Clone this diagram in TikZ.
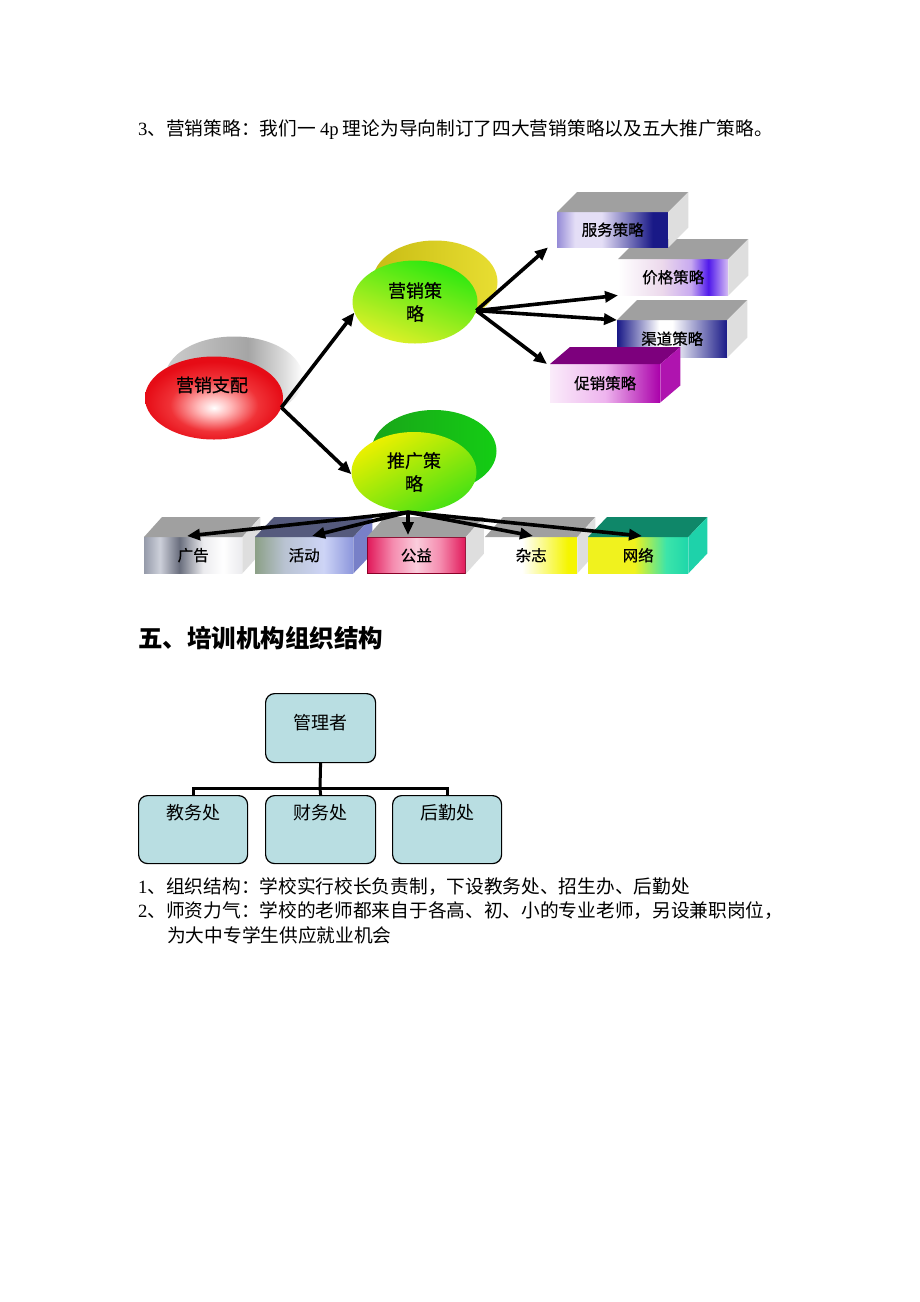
\documentclass[tikz,border=0pt]{standalone}
\usepackage{fontspec}
\setmainfont{Liberation Serif}
\newfontfamily\cjk{Noto Sans CJK SC}
\newfontfamily\cjkh[FakeBold=0.6]{Noto Sans CJK SC}
\usetikzlibrary{shapes.geometric,arrows.meta}

\definecolor{navy}{RGB}{25,25,135}
\definecolor{fwA}{RGB}{150,140,215}
\definecolor{fwB}{RGB}{228,222,246}
\definecolor{jgB}{RGB}{200,170,240}
\definecolor{jgC}{RGB}{80,25,235}
\definecolor{jgD}{RGB}{215,190,245}
\definecolor{cxA}{RGB}{250,236,250}
\definecolor{cxB}{RGB}{238,180,238}
\definecolor{cxC}{RGB}{170,0,170}
\definecolor{cxTop}{RGB}{125,0,125}
\definecolor{cxSide}{RGB}{175,20,175}
\definecolor{ggA}{RGB}{150,155,170}
\definecolor{ggB}{RGB}{205,208,218}
\definecolor{ggC}{RGB}{105,110,125}
\definecolor{ggD}{RGB}{235,235,238}
\definecolor{hdA}{RGB}{140,160,135}
\definecolor{hdB}{RGB}{185,195,210}
\definecolor{hdC}{RGB}{205,212,246}
\definecolor{hdD}{RGB}{140,150,220}
\definecolor{hdTop}{RGB}{85,90,125}
\definecolor{hdSide}{RGB}{120,128,200}
\definecolor{gyA}{RGB}{225,25,90}
\definecolor{gyB}{RGB}{245,140,175}
\definecolor{gyC}{RGB}{250,205,220}
\definecolor{gyBorder}{RGB}{140,0,40}
\definecolor{zzA}{RGB}{245,245,0}
\definecolor{wlA}{RGB}{240,242,30}
\definecolor{wlB}{RGB}{60,228,170}
\definecolor{wlC}{RGB}{30,215,170}
\definecolor{wlTop}{RGB}{15,135,105}
\definecolor{wlSide}{RGB}{30,210,170}
\definecolor{topgray}{RGB}{160,160,160}
\definecolor{sidegray}{RGB}{222,222,222}
\definecolor{redD}{RGB}{230,12,22}
\definecolor{redM}{RGB}{240,50,55}
\definecolor{redL}{RGB}{255,185,185}
\definecolor{grA}{RGB}{205,205,205}
\definecolor{grB}{RGB}{165,165,165}
\definecolor{grC}{RGB}{220,220,220}
\definecolor{ylA}{RGB}{200,188,20}
\definecolor{ylB}{RGB}{232,222,50}
\definecolor{gnA}{RGB}{25,165,25}
\definecolor{gnB}{RGB}{20,205,20}
\definecolor{msTop}{RGB}{40,232,15}
\definecolor{msBot}{RGB}{225,240,40}
\definecolor{tgA}{RGB}{238,240,0}
\definecolor{tgB}{RGB}{70,225,20}
\definecolor{orgfill}{RGB}{185,222,226}

\pgfdeclarehorizontalshading{fuwu}{100bp}{color(0bp)=(fwA); color(25bp)=(fwA); color(33bp)=(fwB); color(45bp)=(fwB); color(68bp)=(navy); color(100bp)=(navy)}
\pgfdeclarehorizontalshading{jiage}{100bp}{color(0bp)=(white); color(25bp)=(white); color(45bp)=(white!85!violet); color(58bp)=(jgB); color(66bp)=(jgC); color(75bp)=(jgD); color(100bp)=(jgD)}
\pgfdeclarehorizontalshading{qudao}{100bp}{color(0bp)=(navy); color(25bp)=(navy); color(44bp)=(white); color(50bp)=(white); color(75bp)=(navy); color(100bp)=(navy)}
\pgfdeclarehorizontalshading{cuxiao}{100bp}{color(0bp)=(cxA); color(25bp)=(cxA); color(50bp)=(cxB); color(75bp)=(cxC); color(100bp)=(cxC)}
\pgfdeclarehorizontalshading{guanggao}{100bp}{color(0bp)=(ggA); color(25bp)=(ggA); color(33bp)=(ggB); color(43bp)=(ggC); color(55bp)=(ggD); color(65bp)=(white); color(75bp)=(ggD); color(100bp)=(ggD)}
\pgfdeclarehorizontalshading{huodong}{100bp}{color(0bp)=(hdA); color(25bp)=(hdA); color(40bp)=(hdB); color(60bp)=(hdC); color(75bp)=(hdD); color(100bp)=(hdD)}
\pgfdeclarehorizontalshading{gongyi}{100bp}{color(0bp)=(gyA); color(25bp)=(gyA); color(38bp)=(gyB); color(50bp)=(gyC); color(62bp)=(gyB); color(75bp)=(gyA); color(100bp)=(gyA)}
\pgfdeclarehorizontalshading{zazhi}{100bp}{color(0bp)=(white); color(25bp)=(white); color(45bp)=(white); color(70bp)=(zzA); color(100bp)=(zzA)}
\pgfdeclarehorizontalshading{wangluo}{100bp}{color(0bp)=(wlA); color(25bp)=(wlA); color(48bp)=(wlA); color(64bp)=(wlB); color(75bp)=(wlC); color(100bp)=(wlC)}
\pgfdeclarehorizontalshading{grayback}{100bp}{color(0bp)=(grA); color(25bp)=(grA); color(55bp)=(grB); color(68bp)=(grC); color(75bp)=(white); color(100bp)=(white)}
\pgfdeclareradialshading{redball}{\pgfpoint{0bp}{-6bp}}{color(0bp)=(white); color(6bp)=(redL); color(16bp)=(redM); color(25bp)=(redD); color(50bp)=(redD)}

\newcommand\cubefaces[5]{%
  \path[#4] (#1.north west) -- ++(#2,-#3) -- ([shift={(#2,-#3)}]#1.north east) -- (#1.north east) -- cycle;
  \path[#5] (#1.north east) -- ++(#2,-#3) -- ([shift={(#2,-#3)}]#1.south east) -- (#1.south east) -- cycle;}

\begin{document}
\begin{tikzpicture}[x=1pt,y=-1pt,
  body/.style={anchor=west, inner sep=0pt, font=\cjk\fontsize{18.7}{24}\selectfont},
  ell/.style={ellipse, inner sep=0pt, align=center, font=\cjkh\fontsize{18}{23}\selectfont},
  cube/.style={anchor=north west, inner sep=0pt, font=\cjkh\fontsize{15.5}{18}\selectfont},
  arr/.style={line width=3.6pt, -{Triangle[length=13pt,width=11pt]}},
  org/.style={draw, line width=1.2pt, rounded corners=9pt, fill=orgfill, anchor=north west},
  orgtxt/.style={font=\cjk\fontsize{18}{22}\selectfont, anchor=center}]
\useasboundingbox (0,0) rectangle (920,1302);
\fill[white] (0,0) rectangle (920,1302);

% title line
\node[body] (t1) at (138,130) {{\rmfamily 3}、营销策略：我们一 {\rmfamily 4p} 理论为导向制订了四大营销策略以及五大推广策略。};

% ellipses
\node[ell, minimum width=138pt, minimum height=83pt, shading=grayback] (zpb) at (234,378) {};
\node[ell, minimum width=138pt, minimum height=83pt, shading=redball] (zp) at (214,398) {};
\node[ell] (zpt) at (212,385) {营销支配};

\node[ell, minimum width=125pt, minimum height=83pt, left color=ylA, right color=ylB] (msb) at (435,282) {};
\node[ell, minimum width=125pt, minimum height=83pt, top color=msTop, bottom color=msBot, shading angle=-20] (ms) at (415,302) {营销策\\略};

\node[ell, minimum width=125pt, minimum height=82pt, left color=gnA, right color=gnB] (tgb) at (434,451) {};
\node[ell, minimum width=125pt, minimum height=80pt, left color=tgA, right color=tgB, shading angle=30] (tg) at (414,472) {推广策\\略};

% right stack of boxes
\node[cube, minimum width=110pt, minimum height=36pt, shading=jiage] (jg) at (618,259) {价格策略};
\cubefaces{jg}{20}{20}{fill=topgray}{fill=sidegray}
\node[cube, minimum width=111pt, minimum height=35pt, shading=fuwu] (fw) at (557,212) {服务策略};
\cubefaces{fw}{20}{20}{fill=topgray}{fill=sidegray}
\node[cube, minimum width=110pt, minimum height=37pt, shading=qudao] (qd) at (617,320) {渠道策略};
\cubefaces{qd}{20}{20}{fill=topgray}{fill=sidegray}
\node[cube, minimum width=110pt, minimum height=38pt, shading=cuxiao] (cx) at (550,364) {促销策略};
\cubefaces{cx}{20}{17}{fill=cxTop}{fill=cxSide}

% bottom row of boxes
\node[cube, minimum width=98pt, minimum height=36pt, shading=guanggao] (gg) at (144,537) {广告};
\cubefaces{gg}{18}{20}{fill=topgray}{fill=sidegray}
\node[cube, minimum width=98pt, minimum height=36pt, shading=huodong] (hd) at (255,537) {活动};
\cubefaces{hd}{19}{20}{fill=hdTop}{fill=hdSide}
\node[cube, minimum width=98pt, minimum height=36pt, shading=gongyi, draw=gyBorder, line width=0.8pt] (gy) at (367,537) {公益};
\cubefaces{gy}{18}{20}{fill=topgray}{fill=sidegray}
\node[cube, minimum width=92pt, minimum height=36pt, shading=zazhi] (zz) at (485,537) {杂志};
\cubefaces{zz}{18}{20}{fill=topgray}{fill=sidegray}
\node[cube, minimum width=100pt, minimum height=36pt, shading=wangluo] (wl) at (588,537) {网络};
\cubefaces{wl}{19}{20}{fill=wlTop}{fill=wlSide}

% arrows
\draw[arr] (zp.-8) -- (ms.190);
\draw[arr] (zp.-8) -- (tg.182);
\draw[arr] (ms.-8) -- ([xshift=-9pt]fw.south west);
\draw[arr] (ms.-8) -- (jg.south west);
\draw[arr] (ms.-8) -- (qd.north west);
\draw[arr] (ms.-8) -- ([xshift=-3pt]cx.north west);
\draw[arr] ([xshift=-6pt]tg.south) -- ([xshift=43pt,yshift=1pt]gg.north west);
\draw[arr] ([xshift=-6pt]tg.south) -- ([xshift=57pt,yshift=1pt]hd.north west);
\draw[arr] ([xshift=-6pt]tg.south) -- ([xshift=41pt,yshift=2pt]gy.north west);
\draw[arr] ([xshift=-6pt]tg.south) -- ([xshift=48pt,yshift=1pt]zz.north west);
\draw[arr] ([xshift=-6pt]tg.south) -- ([xshift=54pt,yshift=1pt]wl.north west);

% heading
\node[anchor=west, inner sep=0pt, font=\cjk\bfseries\fontsize{24.5}{28}\selectfont] (h5) at (138,638) {五、培训机构组织结构};

% org chart
\node[org, minimum width=110pt, minimum height=69pt, label={[orgtxt, yshift=-30pt]north:管理者}] (mgr) at (265,693) {};
\node[org, minimum width=109pt, minimum height=68pt, label={[orgtxt, yshift=-18pt]north:教务处}] (jw) at (138,795) {};
\node[org, minimum width=110pt, minimum height=68pt, label={[orgtxt, yshift=-18pt]north:财务处}] (cw) at (265,795) {};
\node[org, minimum width=109pt, minimum height=68pt, label={[orgtxt, yshift=-18pt]north:后勤处}] (hq) at (392,795) {};
\coordinate (bus) at (320,788);
\draw[line width=3pt] (mgr.south) -- (bus);
\draw[line width=3pt] (jw.north) |- (bus) -| (hq.north);
\draw[line width=3pt] (cw.north) -- (bus);

% text
\node[body] (p1) at (138,887) {{\rmfamily 1}、组织结构：学校实行校长负责制，下设教务处、招生办、后勤处};
\node[body] (p2) at (138,911) {{\rmfamily 2}、师资力气：学校的老师都来自于各高、初、小的专业老师，另设兼职岗位，};
\node[body] (p3) at (167,935) {为大中专学生供应就业机会};
\end{tikzpicture}
\end{document}
